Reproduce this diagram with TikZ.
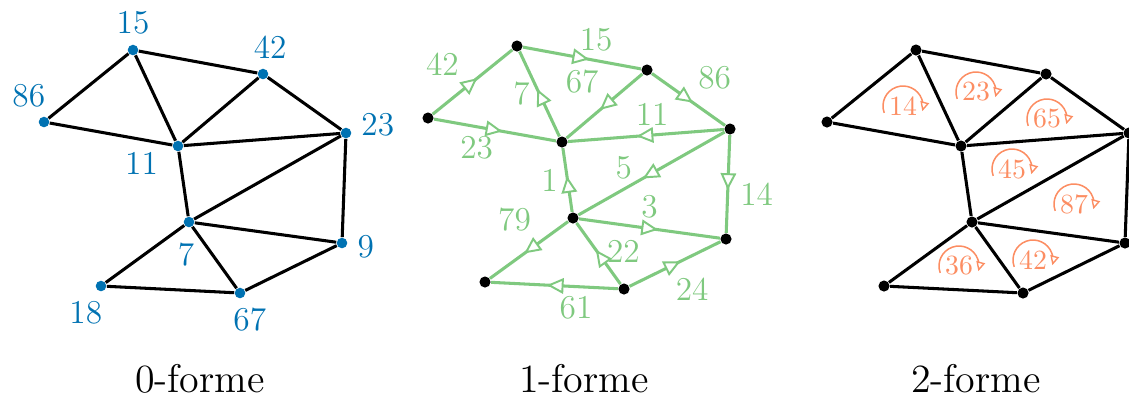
\documentclass[tikz,border=0pt]{standalone}
\usepackage{tikz}
\usetikzlibrary{arrows.meta,decorations.markings}

\definecolor{formblue}{RGB}{0,114,178}
\definecolor{formgreen}{RGB}{127,201,127}
\definecolor{formorange}{RGB}{252,141,98}

\begin{document}
\begin{tikzpicture}[
  x=0.36pt, y=0.36pt, every node/.style={font=\large},
  vtx/.style={circle, fill=formblue, inner sep=0pt, minimum size=3.8pt},
  knot/.style={circle, fill=black, inner sep=0pt, minimum size=4pt},
  lbl/.style={text=formblue},
  link/.style={line width=1.1pt},
  flowline/.style={line width=1.1pt, draw=formgreen, postaction={decorate},
    decoration={markings, mark=at position .56 with
      {\arrow{Triangle[length=6pt, width=5.6pt, line width=.7pt, fill=white]}}}},
  elbl/.style={text=formgreen, inner sep=3pt},
  facelbl/.style={font=\normalsize, text=formorange, inner sep=1pt},
  spin/.style={draw=formorange, line width=.55pt,
    -{Triangle[length=3.4pt, width=3.2pt, line width=.5pt, fill=white]}},
  caption/.style={font=\Large, anchor=base}
]
  \useasboundingbox (0,0) rectangle (1129,-405);

  % 0-forme
  \node[vtx, label={[lbl]90:15}] (n15) at (133,-50) {};
  \node[vtx, label={[lbl, anchor=255]75:42}] (n42) at (263,-74) {};
  \node[vtx, label={[lbl, anchor=300]120:86}] (n86) at (44,-122) {};
  \node[vtx, label={[lbl, anchor=25, label distance=2pt]205:11}] (n11) at (178,-146) {};
  \node[vtx, label={[lbl, anchor=195]15:23}] (n23) at (346,-133) {};
  \node[vtx, label={[lbl, anchor=85, label distance=2pt]265:7}] (n7) at (189,-222) {};
  \node[vtx, label={[lbl, anchor=170]-10:9}] (n9) at (342,-243) {};
  \node[vtx, label={[lbl, anchor=60]240:18}] (n18) at (101,-286) {};
  \node[vtx, label={[lbl, anchor=110]290:67}] (n67) at (240,-293) {};

  % the same mesh twice more
  \begin{scope}[shift={(384,4)}]
    \foreach \v/\x/\y in {15/133/50, 42/263/74, 86/44/122, 11/178/146, 23/346/133,
                          7/189/222, 9/342/243, 18/101/286, 67/240/293}
      \node[knot] (e\v) at (\x,-\y) {};
  \end{scope}
  \begin{scope}[shift={(783,0)}]
    \foreach \v/\x/\y in {15/133/50, 42/263/74, 86/44/122, 11/178/146, 23/346/133,
                          7/189/222, 9/342/243, 18/101/286, 67/240/293}
      \node[knot] (f\v) at (\x,-\y) {};
    \foreach \t/\x/\y in {14/120/106, 23/193/92, 65/264/119, 45/229/169,
                          87/291/204, 36/176/266, 42/250/260} {
      \node[facelbl] (t\t) at (\x,-\y) {\t};
      \draw[spin] ([shift={(200:20)}]t\t.center) arc[start angle=200, end angle=-15, radius=20];
    }
  \end{scope}

  \foreach \p in {n,f}
    \foreach \u/\w in {86/15, 15/42, 86/11, 15/11, 42/11, 42/23, 11/23, 11/7,
                       7/23, 23/9, 7/9, 7/18, 7/67, 18/67, 67/9}
      \draw[link] (\p\u) -- (\p\w);

  \draw[flowline] (e86) -- node[elbl, pos=.45, above left] {42} (e15);
  \draw[flowline] (e86) -- node[elbl, pos=.35, below] {23} (e11);
  \draw[flowline] (e11) -- node[elbl, left] {7} (e15);
  \draw[flowline] (e15) -- node[elbl, pos=.62, above] {15} (e42);
  \draw[flowline] (e42) -- node[elbl, pos=.45, above left] {67} (e11);
  \draw[flowline] (e42) -- node[elbl, above right] {86} (e23);
  \draw[flowline] (e23) -- node[elbl, pos=.46, above] {11} (e11);
  \draw[flowline] (e7) -- node[elbl, left] {1} (e11);
  \draw[flowline] (e23) -- node[elbl, pos=.69, above] {5} (e7);
  \draw[flowline] (e23) -- node[elbl, pos=.6, right=1pt] {14} (e9);
  \draw[flowline] (e7) -- node[elbl, above] {3} (e9);
  \draw[flowline] (e7) -- node[elbl, pos=.35, above left] {79} (e18);
  \draw[flowline] (e67) -- node[elbl, pos=.53, right] {22} (e7);
  \draw[flowline] (e67) -- node[elbl, pos=.4, below right] {24} (e9);
  \draw[flowline] (e67) -- node[elbl, pos=.33, below] {61} (e18);

  \node[caption] (c0) at (200,-392) {0-forme};
  \node[caption] (c1) at (584,-392) {1-forme};
  \node[caption] (c2) at (976,-392) {2-forme};
\end{tikzpicture}
\end{document}
